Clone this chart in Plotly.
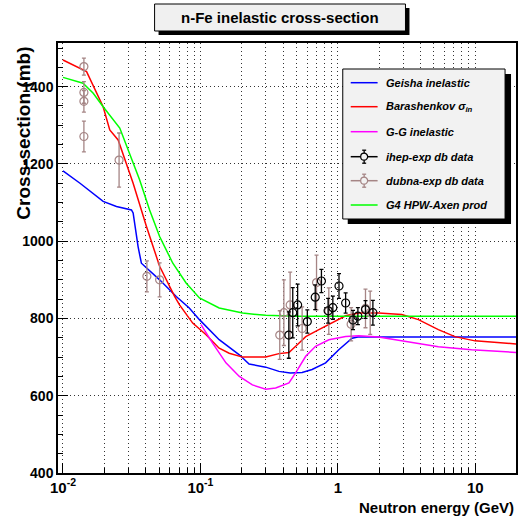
import plotly.graph_objects as go
import math

# ---------------- data ----------------
geisha_E = [0.01, 0.0133, 0.0196, 0.0245, 0.0315, 0.0324, 0.0352, 0.0372, 0.0505, 0.0667,
            0.083, 0.0984, 0.137, 0.192, 0.226, 0.299, 0.373, 0.45, 0.55, 0.65, 0.815,
            1.016, 1.27, 1.4, 20]
geisha_xs = [1182, 1150, 1103, 1090, 1081, 1073, 986, 943, 900, 857,
             827, 797, 745, 706, 682, 674, 663, 659, 660, 668, 685,
             719, 749, 752, 752]

bar_E = [0.01, 0.01485, 0.0196, 0.0219, 0.0252, 0.0306, 0.0324, 0.0405, 0.0505, 0.0649,
         0.0705, 0.0879, 0.11, 0.137, 0.162, 0.203, 0.299, 0.373, 0.441, 0.507, 0.584,
         0.728, 0.91, 1.14, 1.42, 1.98, 2.92, 3.86, 5.39, 7.12, 9.95, 20]
bar_xs = [1469, 1439, 1348, 1288, 1262, 1176, 1150, 1038, 935, 857,
          835, 788, 758, 723, 710, 700, 700, 709, 712, 732, 753,
          771, 788, 807, 814, 814, 810, 797, 771, 753, 742, 734]

gg_E = [0.101, 0.1227, 0.1534, 0.192, 0.239, 0.299, 0.353, 0.441, 0.493, 0.584, 0.689,
        0.861, 1.14, 1.42, 1.98, 3.09, 5.39, 9.4, 20]
gg_xs = [784, 736, 685, 650, 628, 617, 620, 633, 659, 702, 728,
         745, 753, 755, 752, 740, 727, 719, 712]

g4_E = [0.01, 0.014, 0.0166, 0.0196, 0.0259, 0.0306, 0.0361, 0.0427, 0.0505, 0.063,
        0.0787, 0.0984, 0.137, 0.203, 0.299, 0.5, 20]
g4_xs = [1424, 1409, 1383, 1348, 1293, 1228, 1159, 1081, 1012, 943,
         892, 853, 827, 814, 808, 806, 806]

ihep_E = [0.44, 0.47, 0.51, 0.60, 0.685, 0.76, 0.85, 0.92, 1.02, 1.14, 1.29, 1.40, 1.59, 1.80]
ihep_xs = [757, 815, 835, 792, 855, 897, 820, 828, 884, 840, 796, 806, 823, 815]
ihep_err = [60, 65, 54, 30, 32, 30, 32, 30, 32, 26, 25, 22, 23, 32]

dubna_E = [0.0142, 0.0142, 0.0142, 0.0142, 0.0256, 0.0408, 0.0505,
           0.378, 0.405, 0.45, 0.55, 0.70, 0.86, 1.25, 1.59, 1.72]
dubna_xs = [1452, 1385, 1362, 1271, 1210, 909, 900,
            757, 815, 835, 774, 893, 819, 785, 826, 815]
dubna_err = [22, 28, 28, 40, 70, 40, 44,
             63, 85, 85, 56, 71, 60, 43, 50, 56]

x_major = [0.01, 0.1, 1, 10]
x_major_text = ["10<sup>-2</sup>", "10<sup>-1</sup>", "1", "10"]
x_minor = [m * d for d in (0.01, 0.1, 1, 10) for m in range(2, 10) if m * d < 20]
y_major = [400, 600, 800, 1000, 1200, 1400]

legend_labels = ["Geisha inelastic", "Barashenkov \u03c3<sub>in</sub>", "G-G inelastic",
                 "ihep-exp db data", "dubna-exp db data", "G4 HPW-Axen prod"]

title_text = "n-Fe inelastic cross-section"
x_title = "Neutron energy (GeV)"
y_title = "Cross-section (mb)"

# ---------------- styles ----------------
C_BLUE, C_RED, C_MAG, C_GREEN = "#0000ff", "#ff0000", "#ff00ff", "#00ff00"
C_IHEP, C_DUBNA = "#000000", "#a58585"
FONT = "Liberation Sans, Arial, sans-serif"

W, H = 522, 525
L, R, T, B = 58, 4, 43, 52
PW, PH = W - L - R, H - T - B


def px(x):
    return (x - L) / PW


def py(y):
    return (H - B - y) / PH


fig = go.Figure()
lw = 1.5
fig.add_trace(go.Scatter(x=geisha_E, y=geisha_xs, mode="lines", line=dict(color=C_BLUE, width=lw)))
fig.add_trace(go.Scatter(x=bar_E, y=bar_xs, mode="lines", line=dict(color=C_RED, width=lw)))
fig.add_trace(go.Scatter(x=gg_E, y=gg_xs, mode="lines", line=dict(color=C_MAG, width=lw)))
fig.add_trace(go.Scatter(x=g4_E, y=g4_xs, mode="lines", line=dict(color=C_GREEN, width=lw)))
fig.add_trace(go.Scatter(
    x=dubna_E, y=dubna_xs, mode="markers",
    marker=dict(symbol="circle-open", size=8, color=C_DUBNA, line=dict(width=1.2, color=C_DUBNA)),
    error_y=dict(type="data", array=dubna_err, color=C_DUBNA, thickness=1.3, width=2)))
fig.add_trace(go.Scatter(
    x=ihep_E, y=ihep_xs, mode="markers",
    marker=dict(symbol="circle-open", size=8, color=C_IHEP, line=dict(width=1.2, color=C_IHEP)),
    error_y=dict(type="data", array=ihep_err, color=C_IHEP, thickness=1.3, width=2)))

grid = dict(showgrid=True, gridcolor="#333333", griddash="1px,3px", gridwidth=1)

fig.update_layout(
    width=W, height=H, margin=dict(l=L, r=R, t=T, b=B),
    paper_bgcolor="white", plot_bgcolor="white", showlegend=False,
    xaxis=dict(type="log", range=[math.log10(0.0092), math.log10(19.8)],
               tickmode="array", tickvals=x_major, ticktext=x_major_text,
               ticks="inside", ticklen=10, tickcolor="black", tickwidth=1,
               showline=True, linecolor="black", linewidth=1.5, mirror=True,
               tickfont=dict(family=FONT, size=15, color="black", weight="bold"),
               minor=dict(tickmode="array", tickvals=x_minor, ticks="inside", ticklen=5,
                          tickcolor="black", **grid),
               zeroline=False, **grid),
    yaxis=dict(range=[400, 1513], tickmode="array", tickvals=y_major,
               ticks="inside", ticklen=10, tickcolor="black",
               showline=True, linecolor="black", linewidth=1.5, mirror=True,
               tickfont=dict(family=FONT, size=14, color="black", weight="bold"),
               minor=dict(dtick=50, ticks="inside", ticklen=5, tickcolor="black", showgrid=False),
               zeroline=False, **grid),
)

shapes = []
annotations = []

# title box with shadow
shapes.append(dict(type="rect", xref="paper", yref="paper", x0=px(159), x1=px(411), y0=py(35), y1=py(8),
                   fillcolor="black", line=dict(width=0), layer="above"))
shapes.append(dict(type="rect", xref="paper", yref="paper", x0=px(155), x1=px(407), y0=py(31), y1=py(4),
                   fillcolor="#f0f0f0", line=dict(color="black", width=1), layer="above"))
annotations.append(dict(xref="paper", yref="paper", x=px(281), y=py(17.5), text=title_text, showarrow=False,
                        xanchor="center", yanchor="middle",
                        font=dict(family=FONT, size=15, color="black", weight="bold")))

# legend box with shadow
shapes.append(dict(type="rect", xref="paper", yref="paper", x0=px(349), x1=px(513), y0=py(224), y1=py(74),
                   fillcolor="black", line=dict(width=0), layer="above"))
shapes.append(dict(type="rect", xref="paper", yref="paper", x0=px(344), x1=px(507), y0=py(219), y1=py(69),
                   fillcolor="#f2f2f2", line=dict(color="black", width=1), layer="above"))

entry_y = [82.7, 106.7, 131.7, 156.7, 180.7, 205.0]
entry_col = [C_BLUE, C_RED, C_MAG, C_IHEP, C_DUBNA, C_GREEN]
for i, (lab, col, yy) in enumerate(zip(legend_labels, entry_col, entry_y)):
    shapes.append(dict(type="line", xref="paper", yref="paper", x0=px(352), x1=px(379), y0=py(yy), y1=py(yy),
                       line=dict(color=col, width=1.5), layer="above"))
    if i in (3, 4):
        cx = 365.5
        shapes.append(dict(type="line", xref="paper", yref="paper", x0=px(cx), x1=px(cx),
                           y0=py(yy - 6.5), y1=py(yy + 6.5), line=dict(color=col, width=1.3), layer="above"))
        for yc in (yy - 6.5, yy + 6.5):
            shapes.append(dict(type="line", xref="paper", yref="paper", x0=px(cx - 2), x1=px(cx + 2),
                               y0=py(yc), y1=py(yc), line=dict(color=col, width=1.3), layer="above"))
        shapes.append(dict(type="circle", xref="paper", yref="paper", x0=px(cx - 3.5), x1=px(cx + 3.5),
                           y0=py(yy + 3.5), y1=py(yy - 3.5), fillcolor="#f2f2f2",
                           line=dict(color=col, width=1.2), layer="above"))
    annotations.append(dict(xref="paper", yref="paper", x=px(385), y=py(yy), text=lab, showarrow=False,
                            xanchor="left", yanchor="middle",
                            font=dict(family=FONT, size=11, color="black", weight="bold", style="italic")))

# axis titles
annotations.append(dict(xref="paper", yref="paper", x=px(518), y=py(507), text=x_title, showarrow=False,
                        xanchor="right", yanchor="middle",
                        font=dict(family=FONT, size=15, color="black", weight="bold")))
annotations.append(dict(xref="paper", yref="paper", x=px(23), y=py(45), text=y_title, showarrow=False,
                        textangle=-90, xanchor="center", yanchor="top",
                        font=dict(family=FONT, size=19, color="black", weight="bold")))

fig.update_layout(shapes=shapes, annotations=annotations)
fig.write_html("out.html", config={"displayModeBar": False},
               post_script="document.body.style.margin='0';document.body.style.overflow='hidden';")
